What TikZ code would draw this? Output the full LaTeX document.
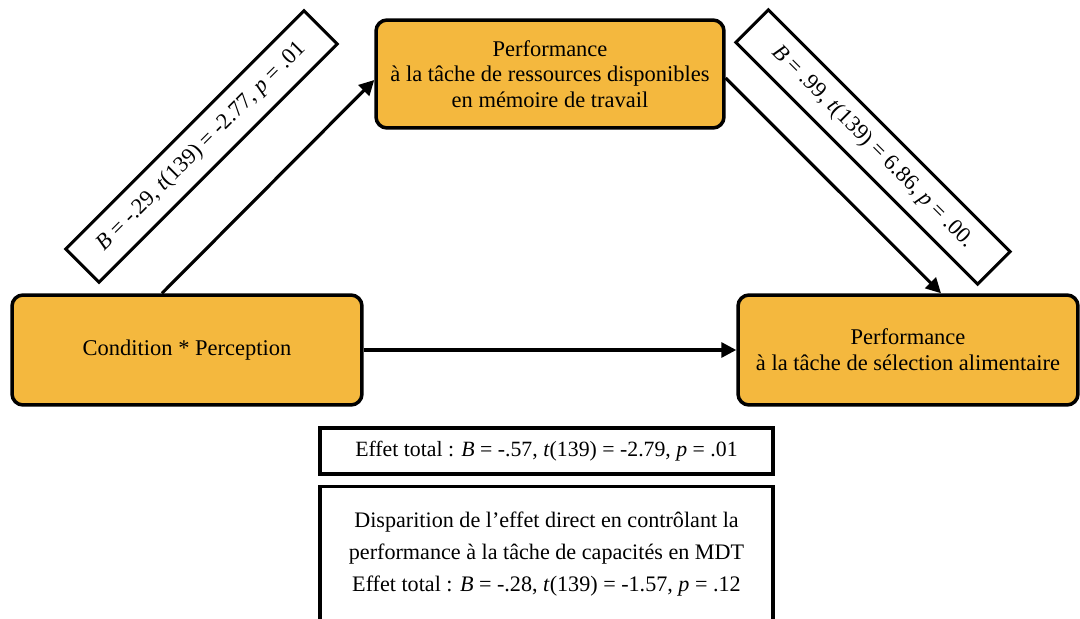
\documentclass[tikz,border=0pt]{standalone}
\usepackage{fontspec}
\setmainfont{Liberation Serif}
\usetikzlibrary{arrows.meta,calc}
\definecolor{boxfill}{RGB}{244,184,62}
\tikzset{
  mainbox/.style={draw=black, line width=2pt, fill=boxfill, rounded corners=0.22cm, align=center, font=\fontsize{12.8}{14.4}\selectfont},
  labbox/.style={draw=black, line width=1.7pt, fill=white, font=\fontsize{12.8}{14.4}\selectfont},
  effbox/.style={draw=black, line width=1.8pt, fill=white, align=center},
  arr/.style={line width=1.8pt, -{Triangle[length=0.3cm,width=0.3cm]}}
}
\begin{document}
\begin{tikzpicture}[x=0.02cm,y=-0.02cm]
\clip (0,0) rectangle (1080,619);
% main boxes
\node[mainbox, minimum width=7.0cm, minimum height=2.2cm] (L) at (187,350) {Condition * Perception};
\node[mainbox, minimum width=6.96cm, minimum height=2.16cm] (T) at (550,74) {Performance\\à la tâche de ressources disponibles\\en mémoire de travail};
\node[mainbox, minimum width=6.8cm, minimum height=2.2cm, font=\fontsize{12.8}{14.8}\selectfont] (R) at (908,350) {Performance\\à la tâche de sélection alimentaire};
% connectors
\draw[arr] ($(L.north)+(-25,0)$) -- ($(T.west)+(0,6)$);
\draw[arr] ($(T.east)+(0,4)$) -- ($(R.north)+(33,0)$);
\draw[arr] (L.east) -- (R.west);
% rotated labels
\node[labbox, rotate=45, minimum width=6.74cm, minimum height=0.94cm] (la) at (201.5,146.5) {\textit{B} = -.29, \textit{t}(139) = -2.77, \textit{p} = .01};
\node[labbox, rotate=-45, minimum width=6.84cm, minimum height=0.92cm] (lb) at (873,147) {\textit{B} = .99, \textit{t}(139) = 6.86, \textit{p} = .00.};
% effect boxes
\node[effbox, minimum width=9.06cm, minimum height=0.92cm, font=\fontsize{12.4}{14.4}\selectfont] (e1) at (546.5,451) {Effet total : \textit{B} = -.57, \textit{t}(139) = -2.79, \textit{p} = .01};
\node[effbox, minimum width=9.06cm, minimum height=2.7cm, font=\fontsize{12.6}{18.2}\selectfont] (e2) at (546.5,554) {Disparition de l’effet direct en contrôlant la\\performance à la tâche de capacités en MDT\\Effet total : \textit{B} = -.28, \textit{t}(139) = -1.57, \textit{p} = .12};
\end{tikzpicture}
\end{document}
